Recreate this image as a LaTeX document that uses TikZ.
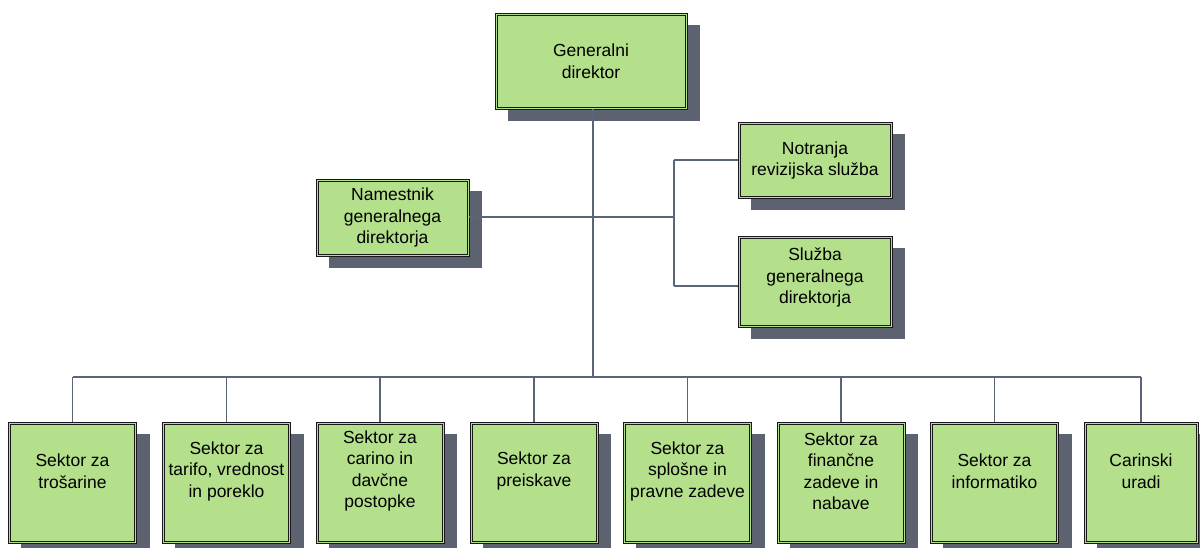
\documentclass[tikz,border=0pt]{standalone}
\usepackage{fontspec}
\setmainfont{Liberation Sans}
\usetikzlibrary{calc,backgrounds}
\definecolor{boxfill}{HTML}{B4E08C}
\definecolor{shadowc}{HTML}{5C6270}
\definecolor{linkc}{HTML}{5B6579}
\tikzset{
  orgbox/.style={rectangle, inner sep=0pt, draw=black!90, line width=0.8pt, fill=boxfill},
  innerline/.style={draw=black!90, line width=0.7pt},
  shadowbox/.style={fill=shadowc},
  orgtext/.style={align=center, inner sep=0pt, font=\fontsize{17.5pt}{21.5pt}\selectfont},
  link/.style={draw=linkc, line width=1.7pt},
  bottombox/.style={orgbox, minimum width=128pt, minimum height=121pt}
}
\begin{document}
\begin{tikzpicture}[x=1pt,y=-1pt]
\useasboundingbox (0,0) rectangle (1200,548);

% upper level
\node[orgbox, minimum width=192pt, minimum height=96pt] (gd) at (591,61) {};
\node[orgtext] (gdt) at (591,61) {Generalni\\direktor};

\node[orgbox, minimum width=153pt, minimum height=77pt] (nam) at (392.5,217.5) {};
\node[orgtext] (namt) at (392.5,217.5) {Namestnik\\generalnega\\direktorja};

\node[orgbox, minimum width=154pt, minimum height=76pt] (notr) at (815,160) {};
\node[orgtext] (notrt) at (815,160.5) {Notranja\\revizijska služba};

\node[orgbox, minimum width=154pt, minimum height=91pt] (sluz) at (815,281.5) {};
\node[orgtext] (sluzt) at (815,277.5) {Služba\\generalnega\\direktorja};

% sectors
\node[bottombox] (s1) at (72.5,482.5) {};
\node[orgtext] (s1t) at (72.5,471) {Sektor za\\trošarine};
\node[bottombox] (s2) at (226.5,482.5) {};
\node[orgtext] (s2t) at (226.5,471) {Sektor za\\tarifo, vrednost\\in poreklo};
\node[bottombox] (s3) at (380,482.5) {};
\node[orgtext] (s3t) at (380,471) {Sektor za\\carino in\\davčne\\postopke};
\node[bottombox] (s4) at (534,482.5) {};
\node[orgtext] (s4t) at (534,471) {Sektor za\\preiskave};
\node[bottombox] (s5) at (687.5,482.5) {};
\node[orgtext] (s5t) at (687.5,471) {Sektor za\\splošne in\\pravne zadeve};
\node[bottombox] (s6) at (841,482.5) {};
\node[orgtext] (s6t) at (841,471) {Sektor za\\finančne\\zadeve in\\nabave};
\node[bottombox] (s7) at (994.5,482.5) {};
\node[orgtext] (s7t) at (994.5,471) {Sektor za\\informatiko};
\node[orgbox, minimum width=114pt, minimum height=121pt] (s8) at (1141,482.5) {};
\node[orgtext] (s8t) at (1141,471) {Carinski\\uradi};

% inner frame line and drop shadow of every box
\foreach \b in {gd,nam,notr,sluz,s1,s2,s3,s4,s5,s6,s7,s8} {
  \draw[innerline] ($(\b.south west)+(2.4,-2.4)$) rectangle ($(\b.north east)+(-2.4,2.4)$);
  \begin{scope}[on background layer]
    \fill[shadowbox] ($(\b.south west)+(13,12)$) rectangle ($(\b.north east)+(13,12)$);
  \end{scope}
}

% connectors
\coordinate (trunk) at (593,377);
\coordinate (branch) at (674,217);
\coordinate (toNotr) at (674,160);
\coordinate (toSluz) at (674,286);
\coordinate (busL) at (72.5,377);
\coordinate (busR) at (1141,377);

\draw[link] (gd.south -| trunk) -- (trunk);
\draw[link] (nam.east |- branch) -- (branch);
\draw[link] (toNotr) -- (toSluz);
\draw[link] (toNotr) -- (notr.west |- toNotr);
\draw[link] (toSluz) -- (sluz.west |- toSluz);
\draw[link] (busL) -- (busR);
\foreach \s in {s1,s2,s3,s4,s5,s6,s7,s8}
  \draw[link] (\s.north |- trunk) -- (\s.north);
\end{tikzpicture}
\end{document}
